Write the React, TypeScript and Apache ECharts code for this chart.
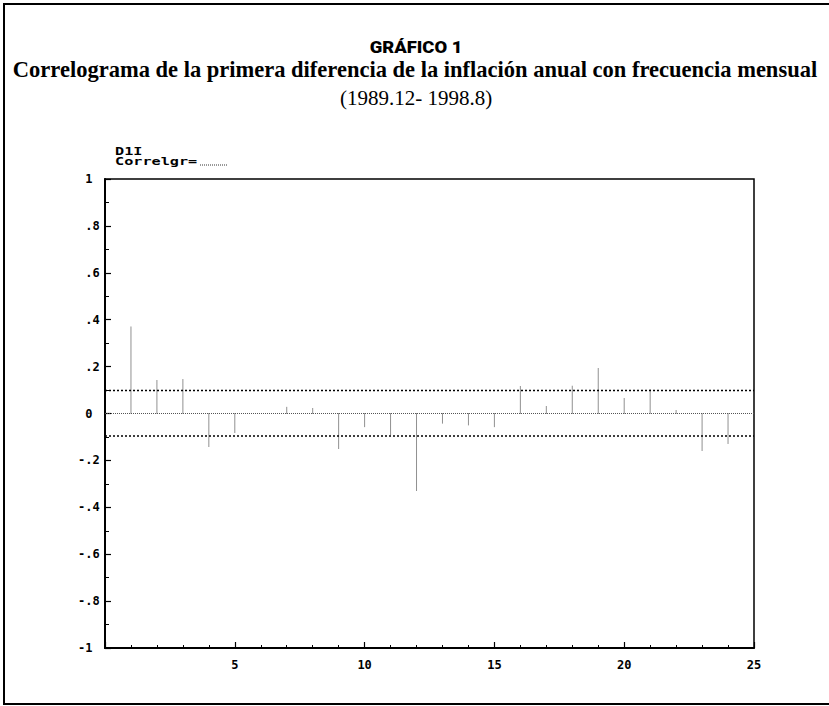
import React, { useEffect, useRef } from "react";
import * as echarts from "echarts";

const lags = [1, 2, 3, 4, 5, 6, 7, 8, 9, 10, 11, 12, 13, 14, 15, 16, 17, 18, 19, 20, 21, 22, 23, 24];
const acfValues = [
  0.37, 0.144, 0.147, -0.145, -0.085, 0.0, 0.028, 0.025, -0.15, -0.06, -0.093, -0.33,
  -0.044, -0.052, -0.06, 0.116, 0.034, 0.12, 0.195, 0.065, 0.104, 0.017, -0.16, -0.13,
];
const bandUpper = 0.098;
const bandLower = -0.096;
const xRange = [0, 25];
const yRange = [-1, 1];

const titleLine1 = "GRÁFICO 1";
const titleLine2 = "Correlograma de la primera diferencia de la inflación anual con frecuencia mensual";
const titleLine3 = "(1989.12- 1998.8)";
const seriesName = "D1I";
const legendLabel = "Correlgr=";

const MONO = "'DejaVu Sans Mono', 'Liberation Mono', monospace";
const SERIF = "'Liberation Serif', 'DejaVu Serif', serif";

function fmtY(v: number): string {
  const r = Math.round(v * 10) / 10;
  if (r === 0) return " 0";
  if (r === 1) return " 1";
  if (r === -1) return "-1";
  const abs = Math.abs(r).toFixed(1).replace(/^0/, "");
  return (r < 0 ? "-" : " ") + abs;
}

export default function App() {
  const ref = useRef<HTMLDivElement>(null);
  useEffect(() => {
    if (!ref.current) return;
    const chart = echarts.init(ref.current, undefined, { renderer: "svg" });
    const data = lags.map((l, i) => [l, acfValues[i]]);
    chart.setOption({
      animation: false,
      backgroundColor: "#fff",
      grid: {
        left: 105,
        right: 75,
        top: 179,
        bottom: 58,
        show: true,
        borderColor: "#000",
        borderWidth: 1.5,
      },
      xAxis: {
        type: "value",
        min: xRange[0],
        max: xRange[1],
        interval: 5,
        axisLine: { onZero: false, lineStyle: { color: "#000", width: 2 } },
        axisTick: { inside: true, length: 6, lineStyle: { color: "#000", width: 1.2 } },
        minorTick: { show: true, splitNumber: 5, length: 3, lineStyle: { color: "#000", width: 1 } },
        splitLine: { show: false },
        axisLabel: {
          formatter: (v: number) => (v === 0 ? "" : String(v)),
          fontFamily: MONO,
          fontWeight: "bold",
          fontSize: 12,
          color: "#000",
          margin: 11,
        },
      },
      yAxis: {
        type: "value",
        min: yRange[0],
        max: yRange[1],
        interval: 0.2,
        axisLine: { lineStyle: { color: "#000", width: 2 } },
        axisTick: { inside: true, length: 6, lineStyle: { color: "#000", width: 1.2 } },
        minorTick: { show: true, splitNumber: 2, length: 4, lineStyle: { color: "#000", width: 1 } },
        splitLine: { show: false },
        axisLabel: {
          formatter: (v: number) => fmtY(v),
          fontFamily: MONO,
          fontWeight: "bold",
          fontSize: 12,
          color: "#000",
          align: "left",
          margin: 27,
        },
      },
      series: [
        {
          name: "zero",
          type: "line",
          data: [[xRange[0], 0], [xRange[1], 0]],
          symbol: "none",
          silent: true,
          lineStyle: { color: "#555", width: 1, type: [1, 1] },
        },
        {
          name: "upper",
          type: "line",
          data: [[xRange[0], bandUpper], [xRange[1], bandUpper]],
          symbol: "none",
          silent: true,
          lineStyle: { color: "#000", width: 1.5, type: [2, 2] },
        },
        {
          name: "lower",
          type: "line",
          data: [[xRange[0], bandLower], [xRange[1], bandLower]],
          symbol: "none",
          silent: true,
          lineStyle: { color: "#000", width: 1.5, type: [2, 2] },
        },
        {
          name: seriesName,
          type: "custom",
          data,
          encode: { x: 0, y: 1 },
          renderItem: (params: any, api: any) => {
            const x = api.value(0);
            const y = api.value(1);
            const p0 = api.coord([x, 0]);
            const p1 = api.coord([x, y]);
            return {
              type: "line",
              shape: { x1: p0[0], y1: p0[1], x2: p1[0], y2: p1[1] },
              style: { stroke: "#222", lineWidth: 1, lineDash: [1, 1] },
            };
          },
        },
      ],
      graphic: [
        {
          type: "rect",
          shape: { x: 4, y: 4, width: 900, height: 700 },
          style: { fill: "none", stroke: "#000", lineWidth: 2 },
          silent: true,
        },
        {
          type: "text",
          x: 416,
          y: 47.5,
          scaleX: 1.15,
          style: {
            text: titleLine1,
            font: "900 16px Roboto, 'Noto Sans', sans-serif",
            fill: "#000",
            textAlign: "center",
            textVerticalAlign: "middle",
          },
        },
        {
          type: "text",
          x: 415,
          y: 69.5,
          style: {
            text: titleLine2,
            font: `bold 22.5px ${SERIF}`,
            fill: "#000",
            textAlign: "center",
            textVerticalAlign: "middle",
          },
        },
        {
          type: "text",
          x: 416,
          y: 98,
          style: {
            text: titleLine3,
            font: `21px ${SERIF}`,
            fill: "#000",
            textAlign: "center",
            textVerticalAlign: "middle",
          },
        },
        {
          type: "text",
          x: 115,
          y: 146,
          scaleX: 1.38,
          style: {
            text: seriesName,
            font: `bold 11px ${MONO}`,
            fill: "#000",
          },
        },
        {
          type: "text",
          x: 115,
          y: 156,
          scaleX: 1.38,
          style: {
            text: legendLabel,
            font: `bold 11px ${MONO}`,
            fill: "#000",
          },
        },
        {
          type: "line",
          shape: { x1: 200, y1: 165, x2: 227, y2: 165 },
          style: { stroke: "#333", lineWidth: 1, lineDash: [1, 1] },
        },
      ],
    });
    return () => chart.dispose();
  }, []);
  return (
    <div
      ref={ref}
      style={{ position: "absolute", left: 0, top: 0, width: 829, height: 706 }}
    />
  );
}
